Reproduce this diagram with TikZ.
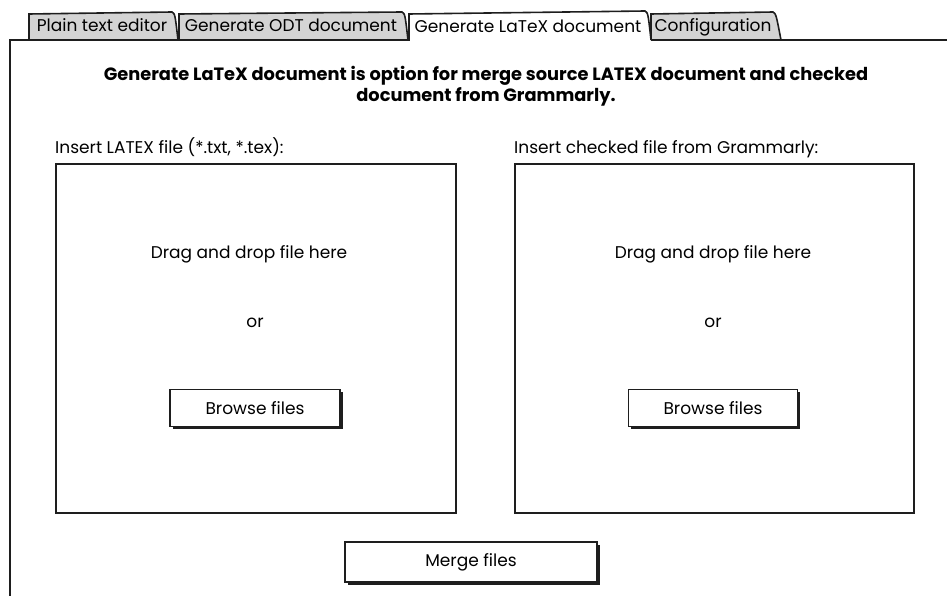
\documentclass[tikz,border=0pt]{standalone}
\usepackage{fontspec}
\setmainfont{Poppins}
\usetikzlibrary{positioning, shadows}
\definecolor{tabgrey}{HTML}{D4D4D4}
\definecolor{inkdark}{HTML}{1E1E1E}

\begin{document}
\begin{tikzpicture}[x=1pt, y=-1pt,
    frame/.style={draw=inkdark, line width=1.6pt},
    tablabel/.style={font=\fontsize{17}{20}\selectfont, inner sep=0pt},
    lbl/.style={font=\fontsize{17}{20}\selectfont, inner sep=0pt},
    btn/.style={frame, fill=white, font=\fontsize{17}{20}\selectfont,
        drop shadow={shadow xshift=2.5pt, shadow yshift=-2.5pt, fill=inkdark, opacity=1}}]
    \useasboundingbox (0,0) rectangle (947,596);

    % Tabs
    \filldraw[frame, fill=tabgrey] (29,40) -- (29,14) -- (172,12) .. controls (175,14) .. (178,40);
    \filldraw[frame, fill=tabgrey] (179,40) -- (179,14) -- (402,12) .. controls (405,14) .. (408,40);
    \filldraw[frame, fill=tabgrey] (651,40) -- (651,14) -- (773,12) .. controls (776,14) .. (781,40);
    \filldraw[frame, fill=white] (409,41) -- (409,14) -- (645,11) .. controls (648,13) .. (651,40);
    \node[tablabel, anchor=base] (tabplain) at (102,32) {Plain text editor};
    \node[tablabel, anchor=base] (tabodt) at (291,32) {Generate ODT document};
    \node[tablabel, anchor=base] (tablatex) at (528,33) {Generate LaTeX document};
    \node[tablabel, anchor=base] (tabconfig) at (713,32) {Configuration};

    % Panel border
    \draw[frame] (10,596) -- (10,40) -- (409,40);
    \draw[frame] (651,40) -- (947,40);

    % Description
    \node[lbl, font=\fontsize{17.8}{21}\selectfont\bfseries, align=center] (intro) at (486,86)
        {Generate LaTeX document is option for merge source LATEX document and checked\\document from Grammarly.};

    % Left drop area
    \node[frame, anchor=north west, minimum width=400pt, minimum height=349pt] (leftdrop) at (55,163) {};
    \node[lbl, anchor=base west] (leftlabel) at (55,154) {Insert LATEX file (*.txt, *.tex):};
    \node[lbl] (leftdrag) at (249,254) {Drag and drop file here};
    \node[lbl] (leftor) at (255,323) {or};
    \node[btn, minimum width=170pt, minimum height=37pt] (leftbrowse) at (255,408) {Browse files};

    % Right drop area
    \node[frame, anchor=north west, minimum width=399pt, minimum height=349pt] (rightdrop) at (514,163) {};
    \node[lbl, anchor=base west] (rightlabel) at (514,154) {Insert checked file from Grammarly:};
    \node[lbl] (rightdrag) at (713,254) {Drag and drop file here};
    \node[lbl] (rightor) at (713,323) {or};
    \node[btn, minimum width=169pt, minimum height=37pt] (rightbrowse) at (713,408) {Browse files};

    % Merge
    \node[btn, minimum width=252pt, minimum height=40pt] (merge) at (471,562) {Merge files};
\end{tikzpicture}
\end{document}
